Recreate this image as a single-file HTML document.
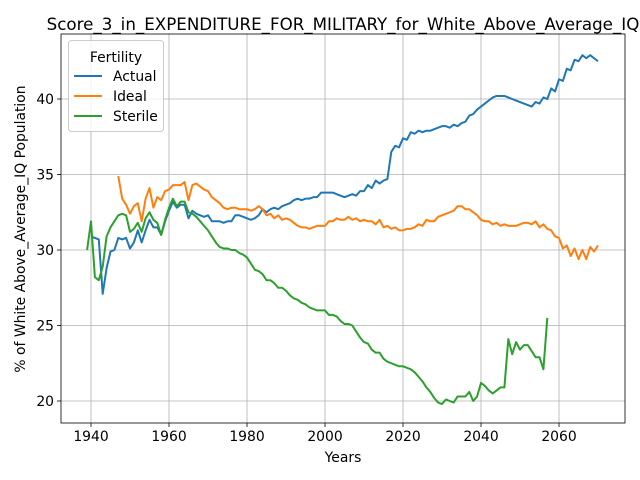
<!DOCTYPE html>
<html><head><meta charset="utf-8"><style>body{margin:0;background:#fff}svg{display:block;font-family:"DejaVu Sans","Liberation Sans",sans-serif}</style></head>
<body>
<svg id="chart" width="640" height="480"></svg>
<script>
const actualStart = 1940;
const actual = [30.9,30.8,30.7,27.1,28.8,29.9,30.0,30.8,30.7,30.8,30.1,30.5,31.3,30.5,31.3,32.0,31.5,31.5,31.0,31.9,32.6,33.2,32.8,33.0,33.0,32.1,32.6,32.4,32.3,32.2,32.3,31.9,31.9,31.9,31.8,31.9,31.9,32.3,32.3,32.2,32.1,32.0,32.1,32.3,32.7,32.5,32.7,32.8,32.7,32.9,33.0,33.1,33.3,33.4,33.3,33.4,33.4,33.5,33.5,33.8,33.8,33.8,33.8,33.7,33.6,33.5,33.6,33.7,33.6,33.9,33.9,34.3,34.1,34.6,34.4,34.6,34.7,36.5,36.9,36.8,37.4,37.3,37.8,37.7,37.9,37.8,37.9,37.9,38.0,38.1,38.2,38.2,38.1,38.3,38.2,38.4,38.5,38.9,39.0,39.3,39.5,39.7,39.9,40.1,40.2,40.2,40.2,40.1,40.0,39.9,39.8,39.7,39.6,39.5,39.8,39.7,40.1,40.0,40.7,40.5,41.3,41.2,42.0,41.9,42.6,42.5,42.9,42.7,42.9,42.7,42.5];
const idealStart = 1947;
const ideal = [34.9,33.4,33.0,32.4,32.9,33.1,31.9,33.4,34.1,32.8,33.5,33.3,33.9,34.0,34.3,34.3,34.3,34.5,33.3,34.3,34.4,34.2,34.0,33.9,33.5,33.3,33.1,32.8,32.7,32.8,32.8,32.7,32.7,32.7,32.6,32.7,32.9,32.7,32.3,32.4,32.1,32.3,32.0,32.1,32.0,31.8,31.6,31.5,31.5,31.4,31.5,31.6,31.6,31.6,31.9,31.9,32.1,32.0,32.0,32.2,32.0,32.1,31.9,32.0,31.9,31.9,31.7,32.0,31.5,31.6,31.4,31.5,31.3,31.3,31.4,31.4,31.5,31.7,31.6,32.0,31.9,31.9,32.2,32.3,32.4,32.5,32.6,32.9,32.9,32.7,32.7,32.5,32.3,32.0,31.9,31.9,31.7,31.8,31.6,31.7,31.6,31.6,31.6,31.7,31.8,31.8,31.7,31.9,31.5,31.7,31.4,31.3,30.9,30.8,30.1,30.3,29.6,30.1,29.4,30.0,29.4,30.2,29.9,30.3];
const sterileStart = 1939;
const sterile = [30.0,31.9,28.2,28.0,28.9,30.9,31.5,31.9,32.3,32.4,32.3,31.2,31.4,31.8,31.2,32.1,32.5,32.0,31.8,31.0,32.0,32.8,33.4,32.9,33.2,33.2,32.5,32.4,32.2,31.9,31.6,31.3,30.9,30.5,30.2,30.1,30.1,30.0,30.0,29.8,29.7,29.5,29.1,28.7,28.6,28.4,28.0,28.0,27.8,27.5,27.5,27.3,27.0,26.8,26.7,26.5,26.4,26.2,26.1,26.0,26.0,26.0,25.7,25.7,25.6,25.3,25.1,25.1,25.0,24.6,24.2,23.9,23.8,23.4,23.2,23.2,22.8,22.6,22.5,22.4,22.3,22.3,22.2,22.1,21.9,21.6,21.3,20.9,20.6,20.2,19.9,19.8,20.1,20.0,19.9,20.3,20.3,20.3,20.6,20.0,20.3,21.2,21.0,20.7,20.5,20.7,20.9,20.9,24.1,23.1,23.9,23.4,23.7,23.7,23.3,22.9,22.9,22.1,25.5];
const xTicks = [1940,1960,1980,2000,2020,2040,2060];
const yTicks = [20,25,30,35,40];

const L=61,R=625,T=34,B=423;
const X=v=>91+(v-1940)*3.9;
const Y=v=>401-(v-20)*15.1;
const NS="http://www.w3.org/2000/svg";
const svg=document.getElementById('chart');
function mk(tag,attrs,parent){const e=document.createElementNS(NS,tag);for(const k in attrs)e.setAttribute(k,attrs[k]);(parent||svg).appendChild(e);return e;}

const grid=mk('g',{});


xTicks.forEach(t=>{
  mk('line',{x1:X(t),x2:X(t),y1:T,y2:B,stroke:'#b0b0b0','stroke-width':0.8},grid);
  mk('line',{x1:X(t),x2:X(t),y1:B,y2:B+4,stroke:'#000','stroke-width':0.8});
  const tx=mk('text',{x:X(t),y:B+18,'text-anchor':'middle','font-size':13.9});
  tx.textContent=t;
  
  
});
yTicks.forEach(t=>{
  mk('line',{x1:L,x2:R,y1:Y(t),y2:Y(t),stroke:'#b0b0b0','stroke-width':0.8},grid);
  mk('line',{x1:L-4,x2:L,y1:Y(t),y2:Y(t),stroke:'#000','stroke-width':0.8});
  const tx=mk('text',{x:L-7,y:Y(t)+5,'text-anchor':'end','font-size':13.9});
  tx.textContent=t;
  
  
});
function series(arr,start,color,name){
  const d=arr.map((v,i)=>(i?'L':'M')+X(start+i).toFixed(2)+','+Y(v).toFixed(2)).join('');
  const p=mk('path',{d:d,fill:'none',stroke:color,'stroke-width':2,'stroke-linejoin':'round'});
  
  
}
series(actual,actualStart,'#1f77b4','actual-line');
series(ideal,idealStart,'#ff7f0e','ideal-line');
series(sterile,sterileStart,'#2ca02c','sterile-line');
const frame=mk('rect',{x:L,y:T,width:R-L,height:B-T,fill:'none',stroke:'#000','stroke-width':0.8});


</script>
<svg style="position:absolute;left:0;top:0" width="640" height="480">
<text x="343" y="30" text-anchor="middle" font-size="16.7">Score_3_in_EXPENDITURE_FOR_MILITARY_for_White_Above_Average_IQ</text>
<text x="343" y="462" text-anchor="middle" font-size="13.9">Years</text>
<text transform="translate(25,229) rotate(-90)" text-anchor="middle" font-size="13.9">% of White Above_Average_IQ Population</text>
<g>
<rect x="68.5" y="40.5" width="95" height="91" rx="3" fill="#fff" fill-opacity="0.8" stroke="#ccc"/>
<text x="116" y="62" text-anchor="middle" font-size="13.9">Fertility</text>
<g><line x1="74" x2="102" y1="76" y2="76" stroke="#1f77b4" stroke-width="2"/><text x="113" y="81" font-size="13.9">Actual</text></g>
<g><line x1="74" x2="102" y1="96" y2="96" stroke="#ff7f0e" stroke-width="2"/><text x="113" y="101" font-size="13.9">Ideal</text></g>
<g><line x1="74" x2="102" y1="116" y2="116" stroke="#2ca02c" stroke-width="2"/><text x="113" y="121" font-size="13.9">Sterile</text></g>
</g>
</svg>
</body></html>
